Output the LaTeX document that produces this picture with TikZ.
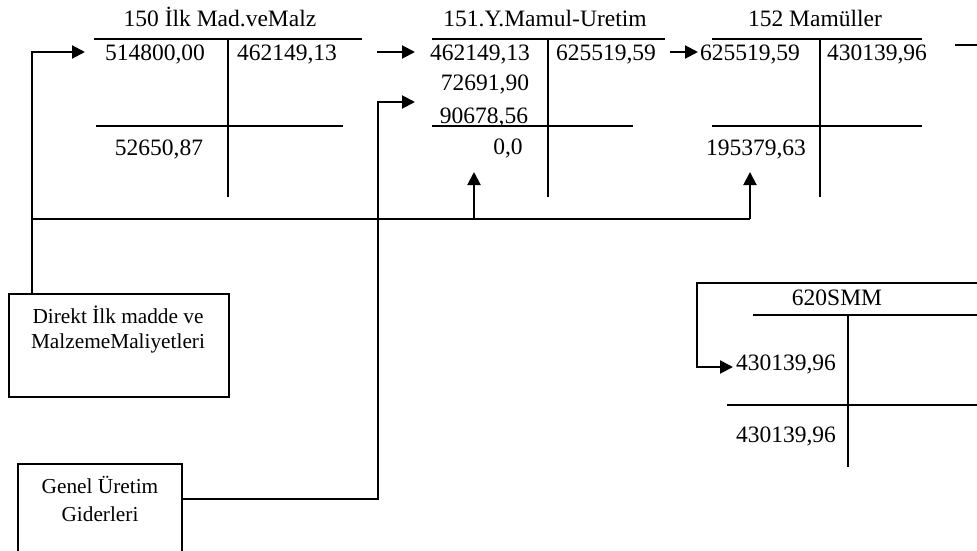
\documentclass[tikz,border=0pt]{standalone}
\usepackage{fontspec}
\setmainfont{Liberation Serif}
\usetikzlibrary{arrows.meta}
\begin{document}
\begin{tikzpicture}[x=1pt,y=-1pt,
  ln/.style={line width=2pt},
  arr/.style={line width=2pt,-{Triangle[length=13pt,width=13pt]}},
  num/.style={font=\fontsize{23.5}{28}\selectfont, inner sep=0pt, anchor=base},
  btxt/.style={font=\fontsize{21.3}{25}\selectfont, inner sep=0pt, anchor=base},
  boxn/.style={draw, line width=2pt, inner sep=0pt, anchor=north west}]
\useasboundingbox (0,0) rectangle (977,551);

% ---- account 150
\node[num] (t150) at (220,27) {150 İlk Mad.veMalz};
\node[num] (a150l) at (155,60) {514800,00};
\node[num] (a150r) at (287,60) {462149,13};
\node[num] (a150b) at (159,155) {52650,87};
\draw[ln] (94,39) -- (362,39);
\draw[ln] (228,39) -- (228,197);
\draw[ln] (96,126) -- (343,126);

% ---- account 151
\node[num] (t151) at (545,27) {151.Y.Mamul-Uretim};
\node[num] (a151a) at (480,60) {462149,13};
\node[num] (a151b) at (485,91) {72691,90};
\node[num] (a151c) at (484,123) {90678,56};
\node[num] (a151d) at (508,154) {0,0};
\node[num] (a151r) at (606,60) {625519,59};
\draw[ln] (432,39) -- (665,39);
\draw[ln] (548,39) -- (548,197);
\draw[ln] (432,126) -- (633,126);

% ---- account 152
\node[num] (t152) at (815,27) {152 Mamüller};
\node[num] (a152l) at (750,60) {625519,59};
\node[num] (a152r) at (877,60) {430139,96};
\node[num] (a152b) at (756,155) {195379,63};
\draw[ln] (712,39) -- (922,39);
\draw[ln] (820,39) -- (820,197);
\draw[ln] (712,126) -- (922,126);

% ---- account 620
\node[num] (t620) at (837,305) {620SMM};
\node[num] (a620a) at (786,370) {430139,96};
\node[num] (a620b) at (786,442) {430139,96};
\draw[ln] (753,315) -- (977,315);
\draw[ln] (848,315) -- (848,467);
\draw[ln] (727,405) -- (977,405);

% ---- source boxes
\node[boxn, minimum width=220pt, minimum height=103pt] (direkt) at (8,293) {};
\node[btxt] (d1) at (118,323) {Direkt İlk madde ve};
\node[btxt] (d2) at (118,348) {MalzemeMaliyetleri};
\coordinate (gtl) at (18,464);
\coordinate (gtr) at (182,464);
\draw[ln] (18,552) -- (gtl) -- (gtr) -- (182,552);
\node[btxt] (g1) at (100,493) {Genel Üretim};
\node[btxt] (g2) at (100,521) {Giderleri};

% ---- connectors
\coordinate (dtop) at (32,293);
\coordinate (tip150) at (85,52);
\draw[arr] (dtop) |- (tip150);
\coordinate (bus0) at (32,219);
\coordinate (bus1) at (474,219);
\coordinate (bus2) at (750,219);
\draw[ln] (bus0) -- (bus2);
\draw[arr] (bus1) -- (474,172);
\draw[arr] (bus2) -- (750,172);

\coordinate (gout) at (182,499);
\coordinate (tipg) at (415,102);
\draw[arr] (gout) -| (378,102) -- (tipg);

\coordinate (s150) at (377,52);
\coordinate (e151) at (415,52);
\draw[arr] (s150) -- (e151);
\coordinate (s151) at (670,52);
\coordinate (e152) at (698,52);
\draw[arr] (s151) -- (e152);
\coordinate (s152) at (955,45);
\draw[ln] (s152) -- (977,45);

\coordinate (b620) at (977,283);
\coordinate (tip620) at (733,367);
\draw[arr] (b620) -- (697,283) |- (tip620);
\end{tikzpicture}
\end{document}
